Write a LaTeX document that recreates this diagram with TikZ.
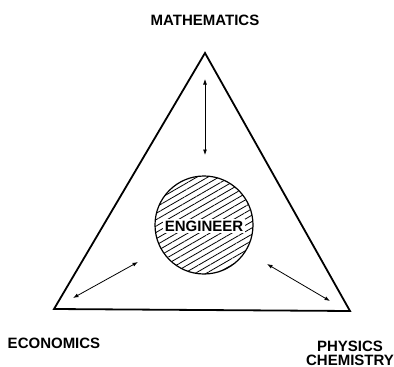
\documentclass[tikz,border=0pt]{standalone}
\usepackage{fontspec}
\setmainfont{Liberation Sans}
\usepackage{tikz}
\usetikzlibrary{positioning}
\usetikzlibrary{arrows.meta}
\usetikzlibrary{patterns.meta}

\tikzset{
    field/.style={font=\bfseries\fontsize{15}{15}\selectfont, inner sep=0pt},
    link/.style={{Latex[length=5.5pt,width=4pt]}-{Latex[length=5.5pt,width=4pt]}, line width=0.8pt}
}

\begin{document}
\begin{tikzpicture}[x=1pt, y=-1pt]
    \useasboundingbox (0,0) rectangle (394,367);

    % Triangle
    \coordinate (top) at (205, 53);
    \coordinate (left) at (54, 309);
    \coordinate (right) at (350, 311);
    \draw[line width=1.8pt, line join=miter] (top) -- (left) -- (right) -- cycle;

    % Engineer in the middle
    \draw[line width=1.2pt, pattern={Lines[angle=30, distance=5.5pt, line width=0.8pt]}] (204, 225) circle (49);
    \node[field, fill=white, inner sep=1.5pt] (engineer) at (204, 226) {ENGINEER};

    % Fields at the corners
    \node[field] (math) at (205, 20) {MATHEMATICS};
    \node[field] (econ) at (54, 343) {ECONOMICS};
    \node[field, align=center] (phys) at (350, 353) {PHYSICS\\[-1pt]CHEMISTRY};

    % Arrows
    \coordinate (a1) at (205, 79);
    \coordinate (b1) at (205, 155);
    \coordinate (a2) at (73, 298);
    \coordinate (b2) at (138, 262);
    \coordinate (a3) at (267, 264);
    \coordinate (b3) at (330, 301);
    \draw[link] (a1) -- (b1);
    \draw[link] (a2) -- (b2);
    \draw[link] (a3) -- (b3);
\end{tikzpicture}
\end{document}
